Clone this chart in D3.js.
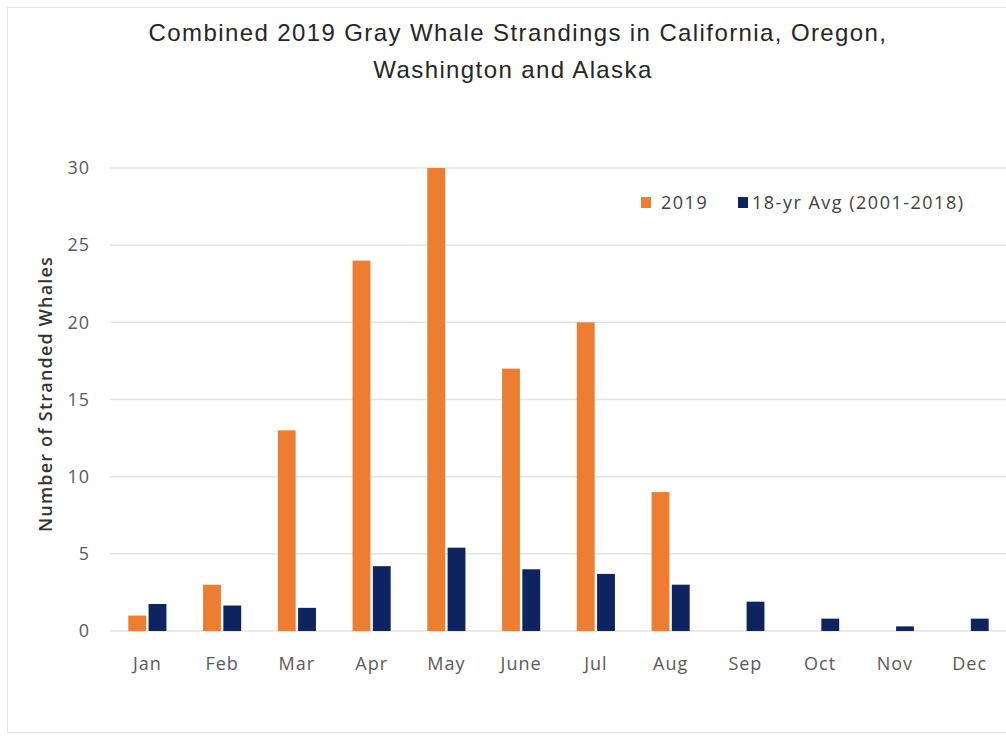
<!DOCTYPE html>
<html lang="en">
  <head>
    <meta charset="utf-8">
    <title>Gray Whale Strandings</title>
    <script src="https://d3js.org/d3.v7.min.js"></script>
    <style>
      body { margin: 0; background: #fff; }
      .tick text { fill: #595959; }
    </style>
  </head>
  <body>
  <div id="chart"></div>
  <script>
  // chart data
  var months = ["Jan", "Feb", "Mar", "Apr", "May", "June", "Jul", "Aug", "Sep", "Oct", "Nov", "Dec"];
  var series = ["2019", "18-yr Avg (2001-2018)"];
  var strandings2019 = [1, 3, 13, 24, 30, 17, 20, 9, 0, 0, 0, 0];
  var avg18yr = [1.75, 1.65, 1.5, 4.2, 5.4, 4.0, 3.7, 3.0, 1.9, 0.8, 0.3, 0.8];
  var yTicks = [0, 5, 10, 15, 20, 25, 30];
  var colors = ["#ED7D31", "#0D2460"];

  var w = 1006, h = 738;
  var margin = {top: 168, right: -1, bottom: 107, left: 110};
  var innerW = w - margin.left - margin.right;
  var innerH = h - margin.top - margin.bottom;

  var svg = d3.select("#chart").append("svg")
    .attr("width", w)
    .attr("height", h);

  // outer frame
  svg.append("rect")
    .attr("x", 7.5).attr("y", 7.5)
    .attr("width", w + 10).attr("height", 725)
    .attr("fill", "#fff")
    .attr("stroke", "#e3e3e3");

  // title
  var title = svg.append("text")
    .attr("text-anchor", "middle")
    .attr("font-family", "'Liberation Sans', Arial, sans-serif")
    .attr("font-size", 24)
    .attr("letter-spacing", 1.4)
    .attr("fill", "#262626");
  title.append("tspan").attr("x", 518).attr("y", 41)
    .text("Combined 2019 Gray Whale Strandings in California, Oregon,");
  title.append("tspan").attr("x", 513).attr("y", 78)
    .text("Washington and Alaska");

  var g = svg.append("g")
    .attr("transform", `translate(${margin.left}, ${margin.top})`);

  var x = d3.scaleBand()
    .domain(months)
    .range([0, innerW])
    .paddingInner(0.49)
    .paddingOuter(0.245);

  var xSub = d3.scaleBand()
    .domain(series)
    .range([0, x.bandwidth()])
    .paddingInner(0.12);

  var y = d3.scaleLinear()
    .domain([0, 30])
    .range([innerH, 0]);

  // gridlines
  g.append("g")
    .selectAll("line")
    .data(yTicks)
    .enter().append("line")
    .attr("x1", 0)
    .attr("x2", innerW + 5)
    .attr("y1", d => y(d))
    .attr("y2", d => y(d))
    .attr("stroke", "#e4e4e4")
    .attr("stroke-width", 1.5);

  var yAxis = d3.axisLeft(y)
    .tickValues(yTicks)
    .tickSize(0)
    .tickPadding(20);

  g.append("g")
    .attr("class", "yAxis")
    .call(yAxis)
    .call(s => s.select(".domain").remove())
    .selectAll("text")
    .attr("font-family", "'Open Sans', sans-serif")
    .attr("font-size", 18)
    .attr("letter-spacing", 1);

  var xAxis = d3.axisBottom(x)
    .tickSize(0)
    .tickPadding(26);

  g.append("g")
    .attr("class", "xAxis")
    .attr("transform", `translate(0, ${innerH})`)
    .call(xAxis)
    .call(s => s.select(".domain").remove())
    .selectAll("text")
    .attr("font-family", "'Open Sans', sans-serif")
    .attr("font-size", 18)
    .attr("letter-spacing", 1);

  // bars
  var rows = months.map(function(m, i) {
    return {month: m, values: [strandings2019[i], avg18yr[i]]};
  });

  var groups = g.selectAll(".month")
    .data(rows)
    .enter().append("g")
    .attr("class", "month")
    .attr("transform", d => `translate(${x(d.month)}, 0)`);

  groups.selectAll("rect")
    .data(d => d.values.map((v, j) => ({key: series[j], value: v, color: colors[j]})))
    .enter().append("rect")
    .attr("x", d => xSub(d.key))
    .attr("y", d => y(d.value))
    .attr("width", xSub.bandwidth())
    .attr("height", d => innerH - y(d.value))
    .attr("fill", d => d.color);

  // y axis title
  svg.append("text")
    .attr("transform", "translate(52, 394) rotate(-90)")
    .attr("text-anchor", "middle")
    .attr("font-family", "'Open Sans', sans-serif")
    .attr("font-size", 18)
    .attr("letter-spacing", 1.2)
    .attr("font-weight", 600)
    .attr("fill", "#333")
    .text("Number of Stranded Whales");

  // legend
  var legendX = [641, 738];
  var legend = svg.selectAll(".legend")
    .data(series)
    .enter().append("g")
    .attr("class", "legend")
    .attr("transform", (d, i) => `translate(${legendX[i]}, 197)`);

  legend.append("rect")
    .attr("width", 10)
    .attr("height", 11)
    .attr("fill", (d, i) => colors[i]);

  legend.append("text")
    .attr("x", (d, i) => i == 0 ? 20 : 14)
    .attr("y", 12)
    .attr("font-family", "'Open Sans', sans-serif")
    .attr("font-size", 18)
    .attr("letter-spacing", 1.5)
    .attr("fill", "#404040")
    .text(d => d);
  </script>
  </body>
</html>
